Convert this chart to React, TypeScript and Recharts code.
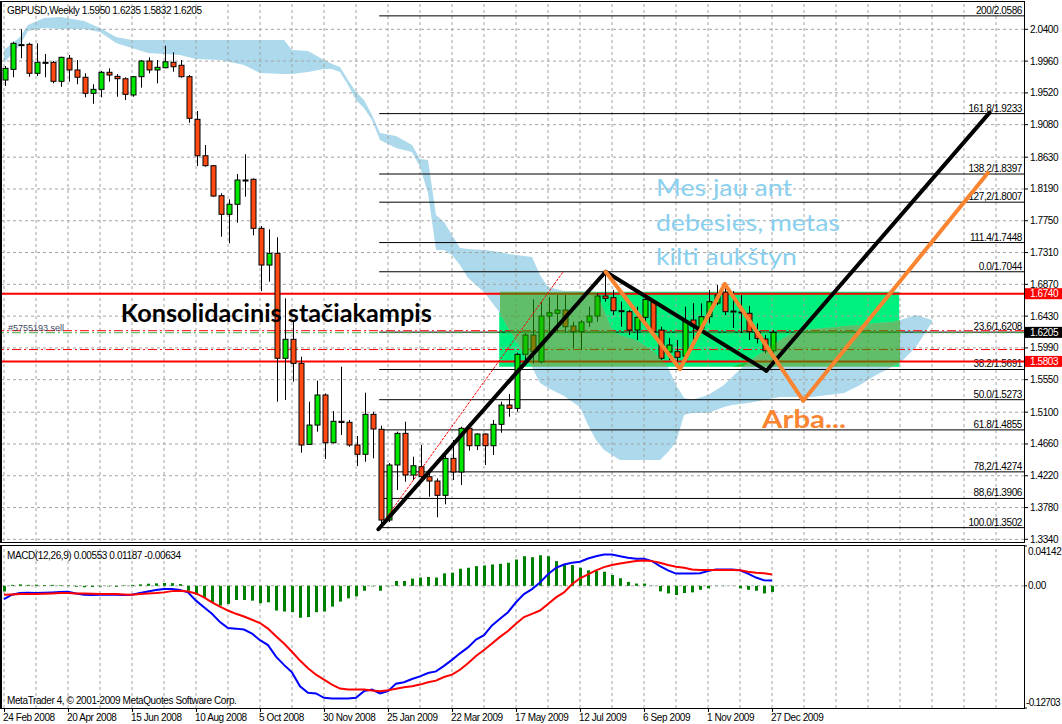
import React from 'react'
import {
  ComposedChart, Bar, Line, Area, XAxis, YAxis,
  ReferenceLine, ReferenceArea, ReferenceDot,
} from 'recharts'

// GBPUSD weekly, bar 0 = 24 Feb 2008 ... bar 96 = 27 Dec 2009
const opens = [
  1.9698, 1.9846, 2.0180, 2.0192, 1.9791, 1.9943, 1.9943, 1.9680, 1.9999, 1.9837,
  1.9736, 1.9514, 1.9569, 1.9805, 1.9749, 1.9716, 1.9491, 1.9744, 1.9961, 1.9837,
  1.9868, 1.9943, 1.9902, 1.9744, 1.9154, 1.8650, 1.8512, 1.8097, 1.7839, 1.7978,
  1.8314, 1.8324, 1.7645, 1.7137, 1.7299, 1.5846, 1.6109, 1.5776, 1.4655, 1.4922,
  1.5338, 1.4677, 1.4974, 1.4960, 1.4646, 1.4517, 1.5070, 1.4863, 1.3607, 1.4369,
  1.4807, 1.4230, 1.4345, 1.4207, 1.4147, 1.3949, 1.4461, 1.4272, 1.4877, 1.4636,
  1.4798, 1.4636, 1.4932, 1.5199, 1.5153, 1.5901, 1.6168, 1.5799, 1.6431, 1.6469,
  1.6514, 1.6293, 1.6214, 1.6348, 1.6431, 1.6708, 1.6685, 1.6505, 1.6491, 1.6237,
  1.6413, 1.6629, 1.6237, 1.5933, 1.5937, 1.5877, 1.6376, 1.6261, 1.6422, 1.6611,
  1.6763, 1.6500, 1.6487, 1.6469, 1.6214, 1.6113, 1.5950,
]
const highs = [
  1.9892, 2.0228, 2.0400, 2.0214, 2.0206, 2.0058, 1.9961, 2.0021, 2.0044, 1.9975,
  1.9791, 1.9639, 1.9823, 1.9860, 1.9781, 1.9736, 1.9754, 1.9975, 2.0012, 1.9975,
  2.0173, 2.0082, 1.9975, 1.9767, 1.9269, 1.8798, 1.8521, 1.8130, 1.8047, 1.8397,
  1.8670, 1.8337, 1.7677, 1.7631, 1.7521, 1.6676, 1.6376, 1.5868, 1.5245, 1.5536,
  1.5360, 1.5116, 1.5729, 1.4992, 1.4770, 1.5370, 1.5106, 1.4913, 1.4396, 1.4830,
  1.4968, 1.4484, 1.4646, 1.4299, 1.4184, 1.4531, 1.4715, 1.4899, 1.4946, 1.4807,
  1.4807, 1.4992, 1.5245, 1.5352, 1.5923, 1.6192, 1.6662, 1.6629, 1.6698, 1.6722,
  1.6722, 1.6352, 1.6376, 1.6560, 1.6745, 1.7044, 1.6791, 1.6629, 1.6514, 1.6560,
  1.6676, 1.6653, 1.6283, 1.6127, 1.6099, 1.6560, 1.6611, 1.6607, 1.6791, 1.6860,
  1.6860, 1.6777, 1.6722, 1.6570, 1.6330, 1.6168, 1.6235,
]
const lows = [
  1.9615, 1.9736, 1.9999, 1.9744, 1.9754, 1.9736, 1.9652, 1.9605, 1.9675, 1.9639,
  1.9459, 1.9370, 1.9459, 1.9675, 1.9467, 1.9421, 1.9467, 1.9592, 1.9791, 1.9652,
  1.9860, 1.9813, 1.9730, 1.9107, 1.8508, 1.8498, 1.8083, 1.7529, 1.7438, 1.7723,
  1.8083, 1.7548, 1.6777, 1.6906, 1.5245, 1.5268, 1.5522, 1.4539, 1.4646, 1.4830,
  1.4452, 1.4669, 1.4784, 1.4622, 1.4355, 1.4414, 1.4461, 1.3502, 1.3580, 1.4023,
  1.4137, 1.4161, 1.4161, 1.3930, 1.3645, 1.3825, 1.4161, 1.4092, 1.4567, 1.4576,
  1.4369, 1.4507, 1.4816, 1.5037, 1.5106, 1.5822, 1.5776, 1.5776, 1.6122, 1.6214,
  1.6214, 1.5984, 1.5961, 1.6283, 1.6352, 1.6629, 1.6445, 1.6283, 1.6168, 1.6099,
  1.6352, 1.6145, 1.5822, 1.5822, 1.5799, 1.5781, 1.6099, 1.6214, 1.6330, 1.6583,
  1.6445, 1.6265, 1.6196, 1.6099, 1.6053, 1.5915, 1.5832,
]
const closes = [
  1.9860, 2.0206, 2.0188, 1.9791, 1.9943, 1.9940, 1.9680, 2.0012, 1.9837, 1.9736,
  1.9514, 1.9569, 1.9805, 1.9767, 1.9716, 1.9500, 1.9744, 1.9961, 1.9837, 1.9874,
  1.9951, 1.9882, 1.9744, 1.9168, 1.8650, 1.8512, 1.8092, 1.7839, 1.7978, 1.8314,
  1.8307, 1.7645, 1.7137, 1.7299, 1.5846, 1.6109, 1.5776, 1.4646, 1.4922, 1.5338,
  1.4677, 1.4974, 1.4957, 1.4646, 1.4517, 1.5070, 1.4867, 1.3607, 1.4369, 1.4807,
  1.4230, 1.4359, 1.4207, 1.4147, 1.3949, 1.4461, 1.4272, 1.4877, 1.4636, 1.4798,
  1.4636, 1.4932, 1.5199, 1.5153, 1.5901, 1.6168, 1.5937, 1.6431, 1.6477, 1.6514,
  1.6283, 1.6214, 1.6348, 1.6431, 1.6708, 1.6676, 1.6505, 1.6496, 1.6237, 1.6413,
  1.6662, 1.6214, 1.5846, 1.6030, 1.5860, 1.6352, 1.6293, 1.6422, 1.6629, 1.6722,
  1.6491, 1.6487, 1.6473, 1.6214, 1.6122, 1.5950, 1.6205,
]

// MACD(12,26,9): main (blue), signal (red), histogram (green)
const macdMain = [
  -0.0137, -0.0092, -0.0075, -0.0072, -0.0075, -0.0072, -0.0068, -0.0065, -0.0062, -0.0079,
  -0.0092, -0.0096, -0.0092, -0.0092, -0.0092, -0.0096, -0.0092, -0.0075, -0.0058, -0.0044,
  -0.0034, -0.0034, -0.0044, -0.0068, -0.0154, -0.0222, -0.0291, -0.0377, -0.0438, -0.0445,
  -0.0455, -0.0496, -0.0565, -0.0616, -0.0736, -0.0822, -0.0900, -0.1044, -0.1112, -0.1119,
  -0.1164, -0.1171, -0.1171, -0.1171, -0.1164, -0.1095, -0.1078, -0.1119, -0.1095, -0.1017,
  -0.1003, -0.0969, -0.0941, -0.0907, -0.0890, -0.0832, -0.0770, -0.0702, -0.0640, -0.0558,
  -0.0513, -0.0411, -0.0342, -0.0274, -0.0171, -0.0086, -0.0034, 0.0034, 0.0120, 0.0188,
  0.0222, 0.0240, 0.0250, 0.0284, 0.0308, 0.0325, 0.0325, 0.0308, 0.0291, 0.0281,
  0.0281, 0.0257, 0.0205, 0.0161, 0.0127, 0.0127, 0.0127, 0.0130, 0.0154, 0.0171,
  0.0171, 0.0171, 0.0161, 0.0127, 0.0086, 0.0058, 0.00553,
]
const macdSignal = [
  -0.0092, -0.0089, -0.0086, -0.0086, -0.0086, -0.0082, -0.0079, -0.0075, -0.0075, -0.0079,
  -0.0079, -0.0082, -0.0086, -0.0086, -0.0086, -0.0089, -0.0092, -0.0086, -0.0079, -0.0075,
  -0.0068, -0.0055, -0.0051, -0.0058, -0.0079, -0.0120, -0.0171, -0.0216, -0.0257, -0.0291,
  -0.0319, -0.0353, -0.0387, -0.0445, -0.0524, -0.0599, -0.0685, -0.0777, -0.0856, -0.0924,
  -0.0976, -0.1027, -0.1068, -0.1078, -0.1078, -0.1078, -0.1089, -0.1095, -0.1085, -0.1071,
  -0.1054, -0.1044, -0.1027, -0.1003, -0.0986, -0.0948, -0.0924, -0.0873, -0.0804, -0.0729,
  -0.0667, -0.0599, -0.0531, -0.0469, -0.0394, -0.0325, -0.0291, -0.0257, -0.0188, -0.0120,
  -0.0068, 0.0017, 0.0079, 0.0120, 0.0161, 0.0195, 0.0216, 0.0233, 0.0246, 0.0257,
  0.0264, 0.0257, 0.0240, 0.0216, 0.0199, 0.0188, 0.0171, 0.0164, 0.0164, 0.0164,
  0.0164, 0.0164, 0.0161, 0.0147, 0.0137, 0.0130, 0.01187,
]
const macdHist = [
  -0.0058, 0.0010, 0.0015, 0.0010, 0.0012, 0.0008, 0.0010, 0.0006, 0.0005, -0.0010,
  -0.0015, -0.0012, -0.0008, -0.0006, -0.0010, 0.0005, 0.0010, 0.0015, 0.0022, 0.0026,
  0.0030, 0.0028, 0.0018, -0.0051, -0.0092, -0.0127, -0.0171, -0.0205, -0.0188, -0.0147,
  -0.0147, -0.0154, -0.0181, -0.0171, -0.0257, -0.0267, -0.0274, -0.0332, -0.0325, -0.0274,
  -0.0267, -0.0216, -0.0164, -0.0130, -0.0110, -0.0051, -0.0005, -0.0051, -0.0005, 0.0051,
  0.0051, 0.0075, 0.0086, 0.0092, 0.0086, 0.0130, 0.0137, 0.0178, 0.0188, 0.0205,
  0.0212, 0.0222, 0.0229, 0.0240, 0.0274, 0.0308, 0.0298, 0.0318, 0.0308, 0.0257,
  0.0222, 0.0216, 0.0188, 0.0161, 0.0154, 0.0147, 0.0113, 0.0079, 0.0041, 0.0024,
  0.0024, 0.0003, -0.0058, -0.0079, -0.0096, -0.0075, -0.0068, -0.0041, -0.0027, -0.0003,
  -0.0003, -0.0002, -0.0027, -0.0041, -0.0051, -0.0079, -0.00634,
]

// Ichimoku cloud outline, read at these bar positions
const cloudIdx = [
  0, 2, 3, 5, 7, 10, 12, 14, 16, 18, 22, 24, 27, 30, 32, 35, 36, 38, 40, 41,
  42, 43, 44, 45, 46, 47, 49, 51, 52, 53, 54, 55, 56, 57, 58, 60, 62, 63, 64, 65,
  66, 67, 68, 70, 72, 73, 74, 75, 76, 77, 79, 81, 82, 83, 84, 85, 86, 88, 90, 91,
  93, 95, 97, 99, 101, 104, 105, 107, 109, 111, 112, 114, 116,
]
const cloudTop = [
  2.0113, 2.0293, 2.0460, 2.0556, 2.0570, 2.0515, 2.0418, 2.0293, 2.0252, 2.0252,
  2.0252, 2.0252, 2.0252, 2.0252, 2.0252, 2.0252, 2.0113, 2.0100, 1.9975, 1.9920,
  1.9878, 1.9698, 1.9532, 1.9421, 1.9214, 1.8964, 1.8923, 1.8798, 1.8605, 1.8591,
  1.7829, 1.7732, 1.7552, 1.7372, 1.7359, 1.7345, 1.7317, 1.7290, 1.7276, 1.7262,
  1.7248, 1.6999, 1.6833, 1.6777, 1.6777, 1.6763, 1.6763, 1.6514, 1.6237, 1.6168,
  1.6099, 1.5961, 1.5850, 1.5725, 1.5476, 1.5296, 1.5268, 1.5338, 1.5476, 1.5587,
  1.5794, 1.5947, 1.6099, 1.6224, 1.6251, 1.6279, 1.6293, 1.6307, 1.6334, 1.6348,
  1.6376, 1.6445, 1.6376,
]
const cloudBottom = [
  1.9933, 2.0183, 2.0376, 2.0418, 2.0404, 2.0404, 2.0363, 2.0210, 2.0141, 2.0072,
  2.0044, 1.9989, 1.9975, 1.9906, 1.9795, 1.9781, 1.9781, 1.9809, 1.9850, 1.9850,
  1.9809, 1.9629, 1.9421, 1.9311, 1.9144, 1.8868, 1.8757, 1.8701, 1.8494, 1.8134,
  1.7345, 1.7345, 1.7276, 1.7137, 1.6957, 1.6763, 1.6473, 1.6265, 1.6099, 1.5891,
  1.5725, 1.5504, 1.5435, 1.5324, 1.5172, 1.4922, 1.4715, 1.4576, 1.4507, 1.4438,
  1.4438, 1.4438, 1.4438, 1.4549, 1.4687, 1.5061, 1.5088, 1.5088, 1.5172, 1.5199,
  1.5227, 1.5268, 1.5310, 1.5310, 1.5310, 1.5351, 1.5365, 1.5476, 1.5615, 1.5725,
  1.5781, 1.6002, 1.6348,
]

const priceTicks = [
  '2.0400', '1.9960', '1.9520', '1.9080', '1.8630', '1.8190', '1.7750', '1.7310', '1.6870',
  '1.6430', '1.5990', '1.5550', '1.5100', '1.4660', '1.4220', '1.3780', '1.3340',
]
const macdTicks = ['0.04142', '0.00', '-0.12703']
const dateIdx = [0, 8, 16, 24, 32, 40, 48, 56, 64, 72, 80, 88, 96]
const dateLabels = [
  '24 Feb 2008', '20 Apr 2008', '15 Jun 2008', '10 Aug 2008', '5 Oct 2008', '30 Nov 2008',
  '25 Jan 2009', '22 Mar 2009', '17 May 2009', '12 Jul 2009', '6 Sep 2009', '1 Nov 2009', '27 Dec 2009',
]
const gridIdx = [
  0, 4, 8, 12, 16, 20, 24, 28, 32, 36, 40, 44, 48, 52, 56, 60,
  64, 68, 72, 76, 80, 84, 88, 92, 96, 100, 104, 108, 112, 116, 120, 124,
]

// Fibonacci retracement / expansion drawn from the March 2009 low
const fibLevels = [2.0586, 1.9233, 1.8397, 1.8007, 1.7448, 1.7044, 1.6208, 1.5691, 1.5273, 1.4855, 1.4274, 1.3906, 1.3502]
const fibNames = ['200', '161.8', '138.2', '127,2', '111.4', '0.0', '23.6', '38.2', '50.0', '61.8', '78,2', '88,6', '100.0']
const fibStart = 46.9
const fibAnchor = [[46.9, 1.3502], [69.9, 1.7044]]

// hand drawn objects (bar index, price)
const box = { x1: 61.9, x2: 111.9, y1: 1.5729, y2: 1.6768 }
const blackPath = [[46.8, 1.3480], [75.2, 1.7044], [95.3, 1.5674], [123.2, 1.9246]]
const orangePath = [[75.2, 1.7044], [84.5, 1.5698], [90.1, 1.6874], [99.9, 1.5259], [123.0, 1.8415]]
const redLevels = [1.6740, 1.5803]
const orderLevels = { stop: 1.6228, open: 1.6200, take: 1.5967 }

const X_DOMAIN: [number, number] = [-0.25, 127.5]
const PRICE_DOMAIN: [number, number] = [1.3317, 2.0778]
const MACD_DOMAIN: [number, number] = [-0.12703, 0.04142]

const rows = Array.from({ length: 128 }, (_, i) => {
  const row: Record<string, any> = { i }
  if (i < opens.length) {
    row.o = opens[i]
    row.h = highs[i]
    row.l = lows[i]
    row.c = closes[i]
    row.range = [lows[i], highs[i]]
    row.hist = macdHist[i]
    row.main = macdMain[i]
    row.signal = macdSignal[i]
  }
  const k = cloudIdx.indexOf(i)
  if (k >= 0) {
    row.cloud = [cloudBottom[k], cloudTop[k]]
    if (i >= box.x1 - 0.5 && i <= box.x2 + 0.5) {
      const t = Math.min(cloudTop[k], box.y2)
      const b = Math.max(cloudBottom[k], box.y1)
      row.over = t > b ? [b, t] : [b, b]
    }
  }
  return row
})

const AXIS_FONT = '"Liberation Sans", Arial, sans-serif'
const axisText = { fontFamily: AXIS_FONT, fontSize: 10, letterSpacing: -0.4 }
const NOTE_FONT = 'Lato, "Open Sans", sans-serif'
const GRID = '#a3a3a3'
const ORANGE = '#fa8430'

function Candle(props: any) {
  const { x, y, width, height, payload } = props
  if (payload == null || payload.o == null || !isFinite(y) || !isFinite(height)) return null
  const cx = Math.round(x + width / 2) + 0.5
  const top = Math.min(y, y + height)
  const span = Math.abs(height)
  const spread = payload.h - payload.l || 1
  const py = (p: number) => top + ((payload.h - p) / spread) * span
  const yo = py(payload.o)
  const yc = py(payload.c)
  const up = payload.c >= payload.o
  const bt = Math.min(yo, yc)
  const bh = Math.max(1, Math.abs(yc - yo))
  return (
    <g>
      <line x1={cx} x2={cx} y1={top} y2={top + span} stroke="#000" strokeWidth={1} />
      <rect x={cx - 2.5} y={bt} width={5} height={bh} fill={up ? '#00e800' : '#ff4a12'} stroke="#000" strokeWidth={1} />
    </g>
  )
}

function PriceTick({ x, y, payload }: any) {
  return (
    <g>
      <line x1={x} x2={x + 4} y1={y} y2={y} stroke="#000" />
      <text x={x + 6} y={y + 3.5} fill="#000" style={axisText}>{payload.value.toFixed(4)}</text>
    </g>
  )
}

function MacdTick({ x, y, payload }: any) {
  const k = [0.04142, 0, -0.12703].indexOf(payload.value)
  const dy = k === 0 ? 9 : k === 2 ? -2 : 3.5
  return (
    <g>
      <line x1={x} x2={x + 3} y1={y} y2={y} stroke="#000" />
      <text x={x + (k === 2 ? 2 : 4)} y={y + dy} fill="#000" style={{ ...axisText, letterSpacing: k === 2 ? -0.7 : -0.4 }}>
        {macdTicks[k]}
      </text>
    </g>
  )
}

function DateTick({ x, y, payload }: any) {
  const k = dateIdx.indexOf(payload.value)
  return (
    <g>
      <line x1={x + 0.5} x2={x + 0.5} y1={y} y2={y + 4} stroke="#000" />
      <text x={x - 1} y={y + 13} fill="#000" style={axisText}>{dateLabels[k]}</text>
    </g>
  )
}

const priceTag = (text: string, bg: string) => (p: any) => {
  const vb = p.viewBox || {}
  const x = vb.x + vb.width + 1
  return (
    <g>
      <rect x={x} y={vb.y - 5.5} width={38} height={11} fill={bg} />
      <text x={x + 5} y={vb.y + 3.5} fill="#fff" style={axisText}>{text}</text>
    </g>
  )
}

const fibLabel = (text: string) => (p: any) => {
  const vb = p.viewBox || {}
  return (
    <text x={vb.x + vb.width - 2} y={vb.y - 2} textAnchor="end" fill="#000" style={axisText}>{text}</text>
  )
}

const orderLabel = (p: any) => {
  const vb = p.viewBox || {}
  return (
    <text x={vb.x + 6} y={vb.y} fill="#3f4a66" style={{ fontFamily: AXIS_FONT, fontSize: 9 }}>#5755193 sell</text>
  )
}

function segments(path: number[][], color: string, width: number, z: number, dash?: string) {
  return path.slice(1).map((p, k) => (
    <ReferenceLine
      key={`${color}-${k}`}
      segment={[{ x: path[k][0], y: path[k][1] }, { x: p[0], y: p[1] }]}
      stroke={color}
      strokeWidth={width}
      strokeDasharray={dash}
      strokeLinecap="round"
      ifOverflow="visible"
      zIndex={z}
    />
  ))
}

function note(text: string, i: number, price: number, color: string, size: number, bold: boolean, len: number) {
  return (
    <ReferenceDot
      key={text}
      x={i}
      y={price}
      r={1}
      ifOverflow="visible"
      zIndex={90}
      shape={(p: any) => (
        <text
          x={p.cx}
          y={p.cy}
          fill={color}
          fontFamily={NOTE_FONT}
          fontSize={size}
          fontWeight={bold ? 700 : 400}
          textLength={len}
          lengthAdjust="spacingAndGlyphs"
        >
          {text}
        </text>
      )}
    />
  )
}

export default function App() {
  const last = opens.length - 1
  const header = `GBPUSD,Weekly  ${opens[last].toFixed(4)} ${highs[last].toFixed(4)} ${lows[last].toFixed(4)} ${closes[last].toFixed(4)}`
  const macdHeader = `MACD(12,26,9) ${macdMain[last].toFixed(5)} ${macdSignal[last].toFixed(5)} ${macdHist[last].toFixed(5)}`

  return (
    <div style={{ position: 'relative', width: 1062, height: 724, background: '#fff', overflow: 'hidden' }}>
      <style>{'body{margin:0;background:#fff}'}</style>

      <div style={{ position: 'absolute', left: 0, top: 0 }}>
        <ComposedChart width={1062} height={545} data={rows} margin={{ top: 2, right: 0, bottom: 4, left: 2 }}>
          <XAxis type="number" dataKey="i" domain={X_DOMAIN} allowDataOverflow hide />
          <YAxis
            orientation="right"
            width={38}
            domain={PRICE_DOMAIN}
            allowDataOverflow
            ticks={priceTicks.map(Number)}
            interval={0}
            axisLine={false}
            tickLine={false}
            tickSize={0}
            tickMargin={0}
            tick={<PriceTick />}
          />

          <ReferenceArea
            x1={box.x1} x2={box.x2} y1={box.y1} y2={box.y2}
            fill="#00f07d" fillOpacity={1} stroke="none" ifOverflow="visible" zIndex={10}
          />

          <Area
            type="linear"
            dataKey="cloud"
            stroke="none"
            fill="#acd9ec"
            fillOpacity={1}
            connectNulls
            isAnimationActive={false}
            activeDot={false}
            zIndex={15}
          />

          {gridIdx.map(v => (
            <ReferenceLine key={`gx${v}`} x={v} stroke={GRID} strokeDasharray="3 3" ifOverflow="visible" zIndex={20} />
          ))}
          {priceTicks.map(s => (
            <ReferenceLine key={`gy${s}`} y={Number(s)} stroke={GRID} strokeDasharray="3 3" ifOverflow="visible" zIndex={20} />
          ))}

          {fibLevels.map((lvl, k) => (
            <ReferenceLine
              key={`fib${k}`}
              segment={[{ x: fibStart, y: lvl }, { x: X_DOMAIN[1], y: lvl }]}
              stroke="#000"
              strokeWidth={1}
              ifOverflow="visible"
              zIndex={30}
              label={fibLabel(`${fibNames[k]}/${lvl.toFixed(4)}`)}
            />
          ))}

          <ReferenceLine y={orderLevels.stop} stroke="#ff0000" strokeDasharray="9 3 2 3" ifOverflow="visible" zIndex={40} label={orderLabel} />
          <ReferenceLine y={orderLevels.open} stroke="#3cb043" strokeDasharray="9 3 2 3" ifOverflow="visible" zIndex={40} />
          <ReferenceLine y={orderLevels.take} stroke="#ff0000" strokeDasharray="9 3 2 3" ifOverflow="visible" zIndex={40} />
          <ReferenceLine y={redLevels[0]} stroke="#ff0000" strokeWidth={2} ifOverflow="visible" zIndex={40} label={priceTag(redLevels[0].toFixed(4), '#ff0000')} />
          <ReferenceLine y={redLevels[1]} stroke="#ff0000" strokeWidth={2} ifOverflow="visible" zIndex={40} label={priceTag(redLevels[1].toFixed(4), '#ff0000')} />
          <ReferenceLine y={closes[last]} stroke="none" ifOverflow="visible" zIndex={40} label={priceTag(closes[last].toFixed(4), '#000')} />

          <Bar dataKey="range" barSize={5} isAnimationActive={false} shape={(p: any) => <Candle {...p} />} zIndex={50} />

          <Area
            type="linear"
            dataKey="over"
            stroke="none"
            fill="#22a800"
            fillOpacity={0.55}
            connectNulls
            isAnimationActive={false}
            activeDot={false}
            zIndex={65}
          />

          {segments(fibAnchor, '#ff0000', 1, 70, '2 2')}
          {segments(blackPath, '#000', 4, 72)}
          {segments(orangePath, ORANGE, 4, 74)}

          {note('Konsolidacinis stačiakampis', 14.6, 1.6352, '#000', 24, true, 311)}
          {note('Mes jau ant', 81.5, 1.8092, '#89cfee', 24, false, 136)}
          {note('debesies, metas', 81.5, 1.7608, '#89cfee', 24, false, 184)}
          {note('kilti aukštyn', 81.5, 1.7137, '#89cfee', 24, false, 141)}
          {note('Arba...', 94.75, 1.4881, ORANGE, 25, true, 84)}
        </ComposedChart>
      </div>

      <div style={{ position: 'absolute', left: 0, top: 545 }}>
        <ComposedChart width={1062} height={179} data={rows} margin={{ top: 1, right: 0, bottom: 0, left: 2 }}>
          <XAxis
            type="number"
            dataKey="i"
            domain={X_DOMAIN}
            allowDataOverflow
            ticks={dateIdx}
            interval={0}
            height={16}
            axisLine={false}
            tickLine={false}
            tickSize={0}
            tickMargin={0}
            tick={<DateTick />}
          />
          <YAxis
            orientation="right"
            width={38}
            domain={MACD_DOMAIN}
            allowDataOverflow
            ticks={[0.04142, 0, -0.12703]}
            interval={0}
            axisLine={false}
            tickLine={false}
            tickSize={0}
            tickMargin={0}
            tick={<MacdTick />}
          />
          {gridIdx.map(v => (
            <ReferenceLine key={`mx${v}`} x={v} stroke={GRID} strokeDasharray="3 3" ifOverflow="visible" zIndex={20} />
          ))}
          <ReferenceLine y={0} stroke={GRID} strokeDasharray="3 3" ifOverflow="visible" zIndex={20} />
          <Bar dataKey="hist" barSize={3} fill="#008000" isAnimationActive={false} zIndex={50} />
          <Line type="linear" dataKey="main" stroke="#0000ff" strokeWidth={2} dot={false} activeDot={false} isAnimationActive={false} zIndex={60} />
          <Line type="linear" dataKey="signal" stroke="#ff0000" strokeWidth={2} dot={false} activeDot={false} isAnimationActive={false} zIndex={61} />
        </ComposedChart>
      </div>

      <div style={{ position: 'absolute', left: 0, top: 1, width: 1025, height: 542, border: '1px solid #000', borderLeftWidth: 2, boxSizing: 'border-box', pointerEvents: 'none' }} />
      <div style={{ position: 'absolute', left: 0, top: 545, width: 1025, height: 164, border: '1px solid #000', borderLeftWidth: 2, boxSizing: 'border-box', pointerEvents: 'none' }} />

      <svg width={1062} height={724} style={{ position: 'absolute', left: 0, top: 0, pointerEvents: 'none' }}>
        <text x={7} y={14} fill="#000" style={axisText}>{header}</text>
        <text x={7} y={559} fill="#000" style={axisText}>{macdHeader}</text>
        <text x={7} y={704} fill="#000" style={axisText}>MetaTrader 4, © 2001-2009 MetaQuotes Software Corp.</text>
      </svg>
    </div>
  )
}
